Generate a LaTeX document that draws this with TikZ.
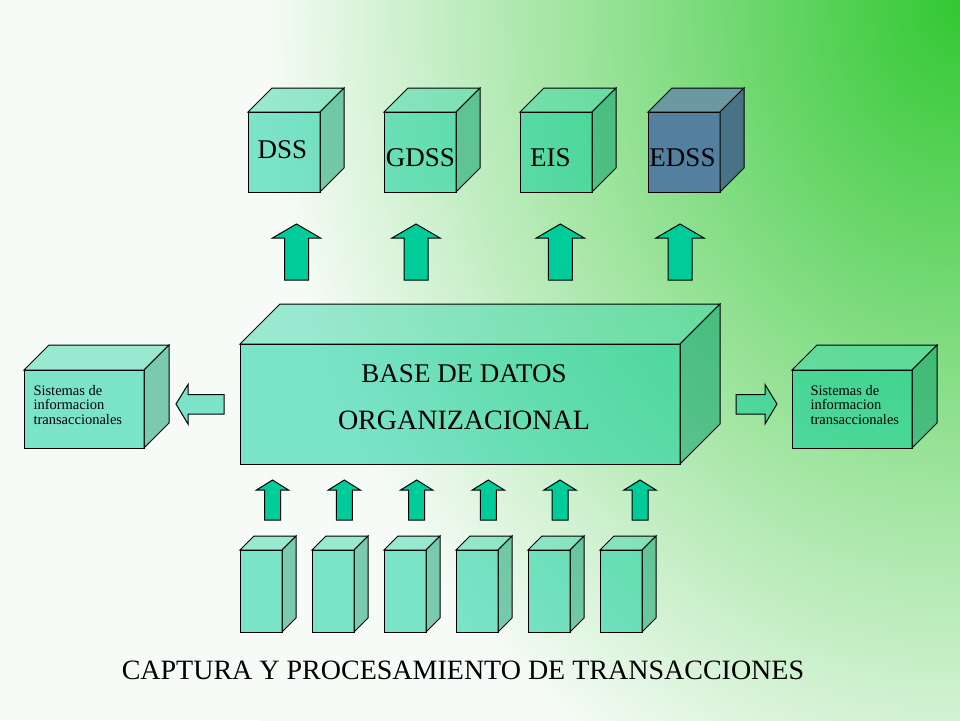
\documentclass[tikz,border=0pt]{standalone}
\usepackage{fontspec}
\setmainfont{Liberation Serif}
\definecolor{bggreen}{RGB}{50,200,50}
\definecolor{bgwhite}{RGB}{247,251,247}
\definecolor{tealc}{RGB}{0,204,153}
\definecolor{ctop}{RGB}{60,215,170}
\definecolor{cside}{RGB}{0,155,105}
\definecolor{efront}{RGB}{84,128,160}
\definecolor{etop}{RGB}{108,152,162}
\definecolor{eside}{RGB}{72,115,135}
\pgfdeclareradialshading{bgshade}{\pgfpoint{0bp}{0bp}}{color(0bp)=(bggreen); color(25bp)=(bgwhite); color(50bp)=(bgwhite)}
\newcommand\cubebox[7]{%
  \node[#7front, minimum width=#4pt, minimum height=#5pt, anchor=north west] (#1) at (#2,#3) {};
  \path[#7top] (#1.north west) -- ++(#6,-#6) -- ([shift={(#6,-#6)}]#1.north east) -- (#1.north east) -- cycle;
  \path[#7side] (#1.north east) -- ++(#6,-#6) -- ([shift={(#6,-#6)}]#1.south east) -- (#1.south east) -- cycle;
}
\newcommand\blockup[6]{%
  \path[arrowfill] (#1,#2) -- (#1+#5,#3) -- (#1+#6,#3) -- (#1+#6,#4) -- (#1-#6,#4) -- (#1-#6,#3) -- (#1-#5,#3) -- cycle;
}
\begin{document}
\begin{tikzpicture}[x=1pt,y=-1pt,line width=1pt,
  tealfront/.style={rectangle, draw=black, fill=tealc, fill opacity=0.5, inner sep=0pt, outer sep=0pt},
  tealtop/.style={draw=black, fill=ctop, fill opacity=0.5},
  tealside/.style={draw=black, fill=cside, fill opacity=0.5},
  edfront/.style={rectangle, draw=black, fill=efront, inner sep=0pt, outer sep=0pt},
  edtop/.style={draw=black, fill=etop},
  edside/.style={draw=black, fill=eside},
  arrowfill/.style={draw=black, fill=tealc, line join=miter},
  sidearrow/.style={draw=black, fill=tealc, fill opacity=0.5, line join=miter},
  biglab/.style={font=\fontsize{27}{32}\selectfont, inner sep=0pt, text=black},
  smalllab/.style={font=\fontsize{14.5}{14.7}\selectfont, inner sep=0pt, text=black},
  caplab/.style={font=\fontsize{28}{32}\selectfont, inner sep=0pt, text=black}]
\useasboundingbox (0,0) rectangle (960,720);
\begin{scope}
  \clip (0,0) rectangle (960,720);
  \fill[bgwhite] (0,0) rectangle (960,720);
  \shade[shading=bgshade] (260,-880) rectangle (1660,880);
\end{scope}

% top cubes
\cubebox{dss}{248}{112}{72}{80}{24}{teal}
\cubebox{gdss}{384}{112}{72}{80}{24}{teal}
\cubebox{eis}{520}{112}{72}{80}{24}{teal}
\cubebox{edss}{648}{112}{72}{80}{24}{ed}
\node[biglab, anchor=base] (dsslab) at (282.4,158.3) {DSS};
\node[biglab, anchor=base] (gdsslab) at (420.3,166) {GDSS};
\node[biglab, anchor=base] (eislab) at (550.3,166) {EIS};
\node[biglab, anchor=base] (edsslab) at (682.5,166) {EDSS};

% top arrows
\blockup{296.5}{224}{238}{280}{24}{12}
\blockup{416}{224}{238}{280}{24}{12}
\blockup{560.3}{224}{238}{280}{24}{12}
\blockup{680}{224}{238}{280}{24}{12}

% central box
\cubebox{bd}{240}{344}{440}{120}{40}{teal}
\node[inner sep=0pt, anchor=base, font=\fontsize{27}{47}\selectfont] (bdlab) at (464,382.7)
  {\begin{tabular}[t]{@{}c@{}}BASE DE DATOS\\ \fontsize{28}{47}\selectfont ORGANIZACIONAL\end{tabular}};

% side boxes
\cubebox{sil}{24}{370}{120}{78}{25}{teal}
\cubebox{sir}{792}{370}{120}{78}{25}{teal}
\node[smalllab, anchor=base west] (sillab) at (33,395)
  {\begin{tabular}[t]{@{}l@{}}Sistemas de\\informacion\\transaccionales\end{tabular}};
\node[smalllab, anchor=base west] (sirlab) at (810,395)
  {\begin{tabular}[t]{@{}l@{}}Sistemas de\\informacion\\transaccionales\end{tabular}};

% side arrows
\path[sidearrow] (176,404) -- (188,384.5) -- (188,394.5) -- (224,394.5) -- (224,414) -- (188,414) -- (188,424) -- cycle;
\path[sidearrow] (777,404) -- (765,384.5) -- (765,394.5) -- (736,394.5) -- (736,414) -- (765,414) -- (765,424) -- cycle;

% bottom arrows
\blockup{272.5}{480}{490}{520}{16}{8}
\blockup{344.3}{480}{490}{520}{16}{8}
\blockup{416.7}{480}{490}{520}{16}{8}
\blockup{488.3}{480}{490}{520}{16}{8}
\blockup{560}{480}{490}{520}{16}{8}
\blockup{640}{480}{490}{520}{16}{8}

% bottom boxes
\cubebox{t1}{240}{550}{42}{82}{14}{teal}
\cubebox{t2}{312}{550}{42}{82}{14}{teal}
\cubebox{t3}{384}{550}{42}{82}{14}{teal}
\cubebox{t4}{456}{550}{42}{82}{14}{teal}
\cubebox{t5}{528}{550}{42}{82}{14}{teal}
\cubebox{t6}{600}{550}{42}{82}{14}{teal}

\node[caplab, anchor=base] (caption) at (463,679) {CAPTURA Y PROCESAMIENTO DE TRANSACCIONES};
\end{tikzpicture}
\end{document}
